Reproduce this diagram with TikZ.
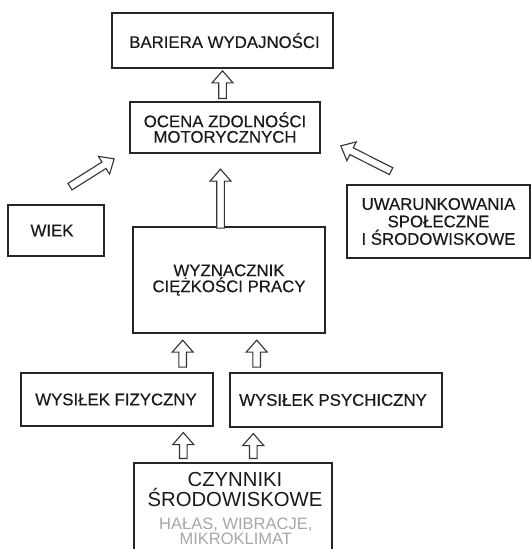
\documentclass[tikz,border=0pt]{standalone}
\usepackage{fontspec}
\setmainfont{Liberation Sans}
\newfontfamily\labelfont{Liberation Sans}[FakeBold=0.35]
\usetikzlibrary{calc}

\definecolor{boxline}{HTML}{262626}
\definecolor{inktext}{HTML}{1A1A1A}
\definecolor{notegray}{HTML}{A8A8A8}
\definecolor{arrowline}{HTML}{333333}

\tikzset{
  box/.style={draw=boxline, line width=1.7pt, fill=white, inner sep=0pt,
    align=center, text=inktext,
    font=\labelfont\fontsize{16.8}{16}\selectfont},
  blockarrow/.style={draw=arrowline, fill=white, line width=1.1pt, line join=miter},
}

% hollow block arrow from #1 (tail) to #2 (tip)
\newcommand{\blockarrow}[2]{%
  \draw[blockarrow] let \p1=(#1), \p2=(#2),
      \n1={atan2(\y2-\y1,\x2-\x1)} in
    ($(\p1)+({\n1+90}:3.8pt)$)
    -- ($(\p2)+({\n1+180}:12pt)+({\n1+90}:3.8pt)$)
    -- ($(\p2)+({\n1+180}:12pt)+({\n1+90}:10.5pt)$)
    -- (\p2)
    -- ($(\p2)+({\n1+180}:12pt)+({\n1-90}:10.5pt)$)
    -- ($(\p2)+({\n1+180}:12pt)+({\n1-90}:3.8pt)$)
    -- ($(\p1)+({\n1-90}:3.8pt)$)
    -- cycle;}

\begin{document}
\begin{tikzpicture}[x=1pt, y=-1pt]
  \useasboundingbox (0,0) rectangle (532,549);
  \clip (0,0) rectangle (532,549);
  \fill[white] (0,0) rectangle (532,549);

  % boxes
  \node[box, minimum width=221pt, minimum height=55pt] (bariera) at (222.5,40.5)
    {BARIERA WYDAJNOŚCI\hspace*{-4pt}};
  \node[box, minimum width=190pt, minimum height=51pt,
        font=\labelfont\fontsize{16.8}{15.5}\selectfont] (ocena) at (225,127.5)
    {OCENA ZDOLNOŚCI\\MOTORYCZNYCH};
  \node[box, minimum width=96pt, minimum height=51pt] (wiek) at (56,230.5)
    {WIEK\hspace*{8pt}};
  \node[box, minimum width=183pt, minimum height=73pt,
        font=\labelfont\fontsize{16.8}{17.5}\selectfont] (uwar) at (438.5,221.5)
    {UWARUNKOWANIA\\SPOŁECZNE\\I ŚRODOWISKOWE};
  \node[box, minimum width=192pt, minimum height=106pt] (wyzn) at (229,280)
    {WYZNACZNIK\\CIĘŻKOŚCI PRACY};
  \node[box, minimum width=192pt, minimum height=53pt] (fiz) at (117,399.5)
    {WYSIŁEK FIZYCZNY\hspace*{2pt}};
  \node[box, minimum width=212pt, minimum height=54pt] (psych) at (336,400)
    {WYSIŁEK PSYCHICZNY\hspace*{6pt}};
  \node[box, minimum width=198pt, minimum height=110pt] (czyn) at (233,518) {};
  \node[anchor=north, inner sep=0pt, align=center, text=inktext,
        font=\fontsize{20.3}{19.7}\selectfont] (czyntxt) at (235,472.5)
    {CZYNNIKI\\ŚRODOWISKOWE};
  \node[anchor=north, inner sep=0pt, align=center, text=notegray,
        font=\fontsize{16.5}{15.7}\selectfont] (czynnote) at (235.8,517.5)
    {HAŁAS, WIBRACJE,\\MIKROKLIMAT};

  % arrows between the boxes
  \blockarrow{$(ocena.north -| bariera.south)+(0,-2.7)$}{$(bariera.south)+(0,2)$}
  \blockarrow{$(wiek.north)+(14,-17.5)$}{$(ocena.south west)+(-15,5)$}
  \blockarrow{$(uwar.north west)+(45,-13)$}{$(ocena.south east)+(20,-8)$}
  \blockarrow{$(wyzn.north)+(-8.5,2)$}{$(ocena.south)+(-4.5,15.3)$}
  \blockarrow{$(fiz.north -| wyzn.south)+(-46.3,-5)$}{$(wyzn.south)+(-46.3,6.3)$}
  \blockarrow{$(psych.north -| wyzn.south)+(27.7,-5)$}{$(wyzn.south)+(27.7,6.3)$}
  \blockarrow{$(czyn.north)+(-49.7,-3.7)$}{$(fiz.south)+(66.3,5.7)$}
  \blockarrow{$(czyn.north)+(20.3,-3.7)$}{$(psych.south -| czyn.north)+(20.3,5.7)$}
\end{tikzpicture}
\end{document}
